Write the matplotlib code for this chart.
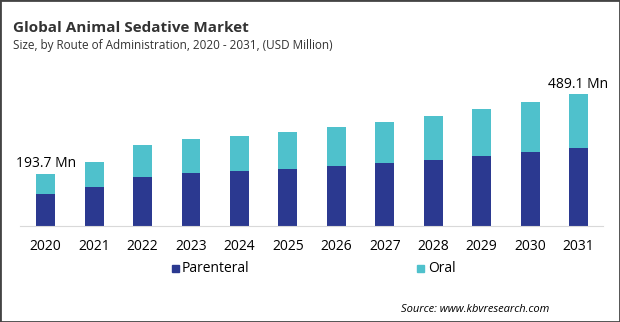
import matplotlib
matplotlib.use("Agg")
import matplotlib.pyplot as plt
from matplotlib.patches import Rectangle

years = ['2020', '2021', '2022', '2023', '2024', '2025',
         '2026', '2027', '2028', '2029', '2030', '2031']
parenteral = [118.6, 144.6, 181.6, 196.5, 204.0, 211.4,
              222.5, 233.6, 244.7, 259.6, 274.4, 289.0]
total = [193.7, 237.0, 300.0, 322.0, 333.0, 348.0,
         367.0, 385.6, 408.0, 434.0, 460.0, 489.1]
oral = [t - p for t, p in zip(total, parenteral)]

c_par = '#2b3990'
c_oral = '#4fc1cc'

plt.rcParams['font.family'] = ['Open Sans', 'DejaVu Sans']

fig = plt.figure(figsize=(6.2, 3.22), dpi=100)
ax = fig.add_axes([0.033, 0.298, 0.94, 0.4535])

x = list(range(len(years)))
ax.bar(x, parenteral, width=0.39, color=c_par)
ax.bar(x, oral, width=0.39, bottom=parenteral, color=c_oral)

ax.set_xlim(-0.52, 11.51)
ax.set_ylim(0, 541)
ax.set_xticks(x)
ax.set_xticklabels(years, fontsize=10)
ax.tick_params(axis='x', length=0, pad=9)
ax.set_yticks([])
for s in ['top', 'right', 'left']:
    ax.spines[s].set_visible(False)
ax.spines['bottom'].set_color('#d9d9d9')

ax.text(0, total[0] + 10, f'{total[0]} Mn', ha='center', va='bottom', fontsize=10)
ax.text(11, total[-1] + 6, f'{total[-1]} Mn', ha='center', va='bottom', fontsize=10)

fig.text(0.021, 0.913, 'Global Animal Sedative Market', fontsize=11, fontweight='bold',
         color='#333333', va='center')
fig.text(0.021, 0.858, 'Size, by Route of Administration, 2020 - 2031, (USD Million)',
         fontsize=8.5, color='#333333', va='center')

# legend
fig.patches.append(Rectangle((172 / 620, 1 - 272 / 322), 7 / 620, 7 / 322,
                             transform=fig.transFigure, color=c_par))
fig.text(182 / 620, 1 - 268 / 322, 'Parenteral', fontsize=10, va='center')
fig.patches.append(Rectangle((417 / 620, 1 - 272 / 322), 7 / 620, 7 / 322,
                             transform=fig.transFigure, color=c_oral))
fig.text(428 / 620, 1 - 268 / 322, 'Oral', fontsize=10, va='center')

fig.text(549 / 620, 1 - 309 / 322, 'Source: www.kbvresearch.com', fontsize=8,
         style='italic', ha='right', va='center')

fig.patches.append(Rectangle((0, 0), 1, 1, transform=fig.transFigure,
                             fill=False, edgecolor='#444444', linewidth=2))

fig.savefig('out.png', dpi=100)
